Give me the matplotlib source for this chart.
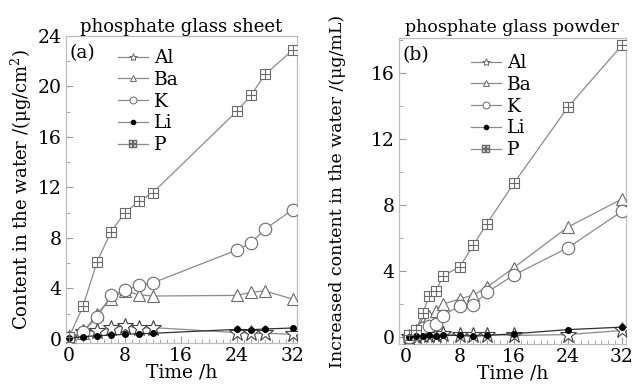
import matplotlib.pyplot as plt
from matplotlib.ticker import MultipleLocator

plt.rcParams['font.family'] = ['DejaVu Serif']
plt.rcParams['mathtext.fontset'] = 'dejavuserif'

# (a) phosphate glass sheet
t_a = [0, 2, 4, 6, 8, 10, 12, 24, 26, 28, 32]
al_a = [0.1, 0.55, 0.65, 0.85, 1.05, 0.85, 0.9, 0.5, 0.45, 0.45, 0.37]
ba_a = [0.1, 0.5, 2.0, 3.2, 3.8, 3.5, 3.4, 3.45, 3.7, 3.8, 3.15]
k_a = [0.1, 0.58, 1.7, 3.45, 3.85, 4.25, 4.45, 7.05, 7.6, 8.7, 10.25]
li_a = [0.05, 0.18, 0.26, 0.3, 0.37, 0.42, 0.45, 0.76, 0.73, 0.79, 0.87]
p_a = [0.13, 2.6, 6.1, 8.5, 10.0, 10.9, 11.6, 18.05, 19.3, 20.95, 22.9]

# (b) phosphate glass powder
t_b = [0.5, 1.5, 2.5, 3.5, 4.5, 5.5, 8, 10, 12, 16, 24, 32]
al_b = [0.0, 0.05, 0.1, 0.15, 0.1, 0.2, 0.15, 0.1, 0.15, 0.1, 0.15, 0.4]
ba_b = [0.05, 0.4, 0.9, 1.3, 1.6, 2.0, 2.3, 2.55, 3.0, 4.2, 6.65, 8.35]
k_b = [0.0, 0.2, 0.55, 0.65, 0.8, 1.3, 1.9, 1.95, 2.7, 3.75, 5.4, 7.6]
li_b = [0.0, 0.05, 0.05, 0.1, 0.05, 0.1, 0.1, 0.05, 0.1, 0.2, 0.45, 0.6]
p_b = [0.1, 0.4, 1.45, 2.5, 2.8, 3.7, 4.25, 5.55, 6.85, 9.3, 13.9, 17.65]

names = ["Al", "Ba", "K", "Li", "P"]
lc = "#8a8a8a"
ec = "#6a6a6a"
fs = 13.5

fig = plt.figure(figsize=(6.37, 3.87), dpi=100)
ax1 = fig.add_axes([0.1036, 0.1137, 0.3626, 0.7933])
ax2 = fig.add_axes([0.6264, 0.1111, 0.356, 0.7907])


def draw(ax, t, series):
    al, ba, k, li, p = series
    ax.plot(t, al, color=lc, lw=0.9, marker="*", ms=12, mfc="white", mec="#404040", mew=0.8, zorder=3)
    ax.plot(t, ba, color=lc, lw=0.9, marker="^", ms=9, mfc="white", mec=ec, mew=0.8, zorder=3)
    ax.plot(t, k, color=lc, lw=0.9, marker="o", ms=9, mfc="white", mec=ec, mew=0.8, zorder=3)
    ax.plot(t, li, color="#303030", lw=0.9, marker="o", ms=4, mfc="black", mec="black", zorder=4)
    ax.plot(t, p, color=lc, lw=0.9, marker="s", ms=7, mfc="white", mec=ec, mew=0.8, zorder=3)
    ax.plot(t, p, ls="none", marker="+", ms=7, mec=ec, mew=0.8, zorder=4)
    # legend handles
    hs = []
    hs.append(ax.plot([], [], color=lc, lw=0.9, marker="*", ms=6, mfc="white", mec=ec, mew=0.7)[0])
    hs.append(ax.plot([], [], color=lc, lw=0.9, marker="^", ms=5, mfc="white", mec=ec, mew=0.7)[0])
    hs.append(ax.plot([], [], color=lc, lw=0.9, marker="o", ms=5, mfc="white", mec=ec, mew=0.7)[0])
    hs.append(ax.plot([], [], color=lc, lw=0.9, marker="o", ms=3, mfc="black", mec="black")[0])
    hs.append(ax.plot([], [], color=lc, lw=0.9, marker="$\\boxplus$", ms=6, mfc=ec, mec=ec, mew=0.3)[0])
    return hs


h1 = draw(ax1, t_a, [al_a, ba_a, k_a, li_a, p_a])
h2 = draw(ax2, t_b, [al_b, ba_b, k_b, li_b, p_b])

for ax in (ax1, ax2):
    ax.set_xticks([0, 8, 16, 24, 32])
    ax.xaxis.set_minor_locator(MultipleLocator(1))
    ax.yaxis.set_minor_locator(MultipleLocator(2))
    ax.tick_params(which="both", direction="in", top=False, right=False,
                   labelsize=fs, color="#9a9a9a", pad=3)
    ax.tick_params(which="major", length=5)
    ax.tick_params(which="minor", length=3)
    for s in ax.spines.values():
        s.set_color("#bdbdbd")
        s.set_linewidth(0.9)
    ax.set_xlabel("Time /h", fontsize=fs, labelpad=-1)

ax1.set_xlim(-0.43, 32.57)
ax1.set_ylim(-0.32, 24.0)
ax1.set_yticks([0, 4, 8, 12, 16, 20, 24])
ax1.set_ylabel("Content in the water /(μg/cm$^2$)", fontsize=13, labelpad=3)
ax1.set_title("phosphate glass sheet", fontsize=13, pad=3)
ax1.text(0.015, 0.975, "(a)", transform=ax1.transAxes, fontsize=fs, va="top", ha="left")
ax1.legend(h1, names, loc="upper left", bbox_to_anchor=(0.17, 1.0), frameon=False,
           fontsize=fs, handlelength=1.6, handletextpad=0.3, labelspacing=0.2,
           borderpad=0.2)

ax2.set_xlim(-1.0, 32.6)
ax2.set_ylim(-0.42, 18.1)
ax2.set_yticks([0, 4, 8, 12, 16])
ax2.set_ylabel("Increased content in the water /(μg/mL)", fontsize=12.5)
ax2.yaxis.set_label_coords(-0.235, 0.5)
ax2.set_title("phosphate glass powder", fontsize=12.5, pad=4)
ax2.text(0.015, 0.975, "(b)", transform=ax2.transAxes, fontsize=fs, va="top", ha="left")
ax2.legend(h2, names, loc="upper left", bbox_to_anchor=(0.26, 0.99), frameon=False,
           fontsize=fs, handlelength=1.6, handletextpad=0.3, labelspacing=0.2,
           borderpad=0.2)

fig.savefig("out.png", dpi=100)
